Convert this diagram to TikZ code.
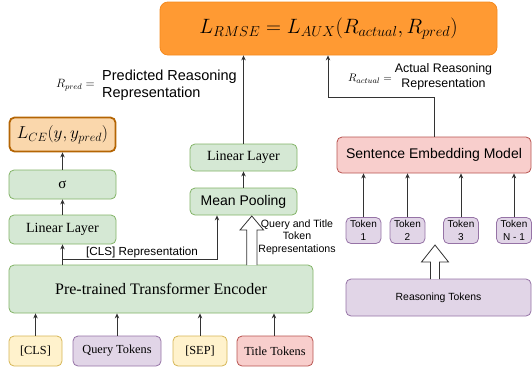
\documentclass[tikz,border=0pt]{standalone}
\usepackage{fontspec}
\setmainfont{Liberation Serif}
\setsansfont{Liberation Sans}
\usetikzlibrary{arrows.meta,shapes.arrows}
\definecolor{grnF}{HTML}{D5E8D4}\definecolor{grnD}{HTML}{82B366}
\definecolor{ylwF}{HTML}{FFF2CC}\definecolor{ylwD}{HTML}{D6B656}
\definecolor{prpF}{HTML}{E1D5E7}\definecolor{prpD}{HTML}{9673A6}
\definecolor{redF}{HTML}{F8CECC}\definecolor{redD}{HTML}{B85450}
\definecolor{orgF}{HTML}{FF9A33}\definecolor{orgD}{HTML}{F58A1F}
\definecolor{lorF}{HTML}{FAD7AC}\definecolor{lorD}{HTML}{B46504}
\definecolor{wire}{HTML}{333333}
\tikzset{
  box/.style={rectangle, rounded corners=5pt, line width=0.8pt, inner sep=0pt, align=center},
  green/.style={box, fill=grnF, draw=grnD},
  yellow/.style={box, fill=ylwF, draw=ylwD},
  purple/.style={box, fill=prpF, draw=prpD},
  red/.style={box, fill=redF, draw=redD},
  serif14/.style={font=\fontsize{14}{16}\selectfont},
  sans14/.style={font=\sffamily\fontsize{14}{16}\selectfont},
  tok/.style={purple, minimum width=35pt, minimum height=26pt, font=\sffamily\fontsize{10}{13}\selectfont},
  inp/.style={minimum height=30pt, font=\fontsize{12.3}{14}\selectfont},
  conn/.style={draw=wire, line width=0.8pt, -{Stealth[length=5pt,width=4.5pt]}},
  hollow/.style={draw=wire, fill=white, line width=0.8pt},
  lbl/.style={font=\sffamily\fontsize{11.7}{13}\selectfont, inner sep=0pt}
}
\begin{document}
\begin{tikzpicture}[x=1pt, y=-1pt]
\useasboundingbox (0,0) rectangle (532,370);

% loss boxes
\node[box, fill=orgF, draw=orgD, rounded corners=8pt, minimum width=337pt, minimum height=53pt,
      font=\fontsize{19.5}{22}\selectfont] (rmse) at (328.5,28.5)
      {$L_{RMSE} = L_{AUX}(R_{actual}, R_{pred})$};
\node[box, fill=lorF, draw=lorD, line width=1.8pt, minimum width=106pt, minimum height=34pt,
      font=\fontsize{18.6}{20}\selectfont] (lce) at (62.5,134.5) {$L_{CE}(y, y_{pred})$};

% classification head
\node[green, font=\fontsize{15}{17}\selectfont, minimum width=107pt, minimum height=29pt] (sig) at (62.5,184.5) {σ};
\node[green, serif14, minimum width=107pt, minimum height=29pt] (linL) at (62.5,229.5) {Linear Layer};

% encoder
\node[green, minimum width=304pt, minimum height=48pt, font=\fontsize{16}{18}\selectfont] (enc) at (161,289)
      {Pre-trained Transformer Encoder};

% encoder inputs
\node[yellow, inp, minimum width=53pt] (cls) at (35.5,351) {[CLS]};
\node[purple, inp, minimum width=88pt] (qry) at (117,351) {Query Tokens};
\node[yellow, inp, minimum width=54pt] (sep) at (200,351) {[SEP]};
\node[red, inp, minimum width=76pt] (ttl) at (275,351) {Title Tokens};

% reasoning branch of the encoder
\node[green, sans14, minimum width=107pt, minimum height=27pt] (mean) at (243.5,201.5) {Mean Pooling};
\node[green, serif14, minimum width=107pt, minimum height=27pt] (linM) at (243.5,157.5) {Linear Layer};

% sentence embedding branch
\node[red, sans14, minimum width=194pt, minimum height=36pt] (sem) at (434,155) {Sentence Embedding Model};
\node[tok] (t1) at (363.5,230.5) {Token\\1};
\node[tok] (t2) at (407.5,230.5) {Token\\2};
\node[tok] (t3) at (461,230.5) {Token\\3};
\node[tok] (tn) at (514,230.5) {Token\\N - 1};
\node[purple, minimum width=185pt, minimum height=37pt, font=\sffamily\fontsize{10.4}{12}\selectfont] (rt)
      at (438.5,297.5) {Reasoning Tokens};

% inputs into the encoder
\draw[conn] (cls.north) -- (cls.north |- enc.south);
\draw[conn] (qry.north) -- (qry.north |- enc.south);
\draw[conn] (sep.north) -- (sep.north |- enc.south);
\draw[conn] (ttl.north -| 274,0) -- (274,0 |- enc.south);

% classification path
\draw[conn] (enc.north -| linL.south) -- (linL.south);
\draw[conn] (linL.north) -- (sig.south);
\draw[conn] (sig.north) -- (lce.south);

% [CLS] representation into mean pooling
\coordinate (clsTurn) at (62,259);
\draw[conn] (clsTurn) -| (217,0 |- mean.south);
\node[lbl] (clsLbl) at (142,252) {[CLS] Representation};

% query and title token representations (hollow arrow)
\draw[hollow] (246.7,265) -- (246.7,230) -- (240,230) -- (251.8,216) -- (263.6,230) -- (257,230) -- (257,265);
\node[font=\sffamily\fontsize{10.6}{12.6}\selectfont, inner sep=0pt, align=center] (qtLbl) at (297,237)
      {Query and Title\\Token\\Representations};

% pooled representation into the loss
\draw[conn] (mean.north) -- (linM.south);
\draw[conn] (linM.north) -- (linM.north |- rmse.south);
\node[inner sep=0pt, font=\fontsize{11.5}{13}\selectfont, anchor=east] (rpL) at (95,85) {$R_{pred} =$};
\node[inner sep=0pt, anchor=west, align=left, font=\sffamily\fontsize{14.5}{17}\selectfont] (rpT) at (102,85.5)
      {Predicted Reasoning\\Representation};

% sentence embedding into the loss
\draw[conn] (sem.north) |- (328,97) -- (328,0 |- rmse.south);
\node[inner sep=0pt, font=\fontsize{11.4}{13}\selectfont, anchor=east] (raL) at (392,79) {$R_{actual} =$};
\node[inner sep=0pt, align=center, font=\sffamily\fontsize{12.4}{14.5}\selectfont] (raT) at (443.5,77)
      {Actual Reasoning\\Representation};

% tokens into the sentence embedding model
\draw[conn] (t1.north) -- (t1.north |- sem.south);
\draw[conn] (t2.north) -- (t2.north |- sem.south);
\draw[conn] (t3.north) -- (t3.north |- sem.south);
\draw[conn] (tn.north) -- (tn.north |- sem.south);

% reasoning tokens split into tokens (hollow arrow)
\draw[hollow] (430.5,279) -- (430.5,262) -- (421.5,262) -- (435,245) -- (448.5,262) -- (439.5,262) -- (439.5,279);
\end{tikzpicture}
\end{document}
